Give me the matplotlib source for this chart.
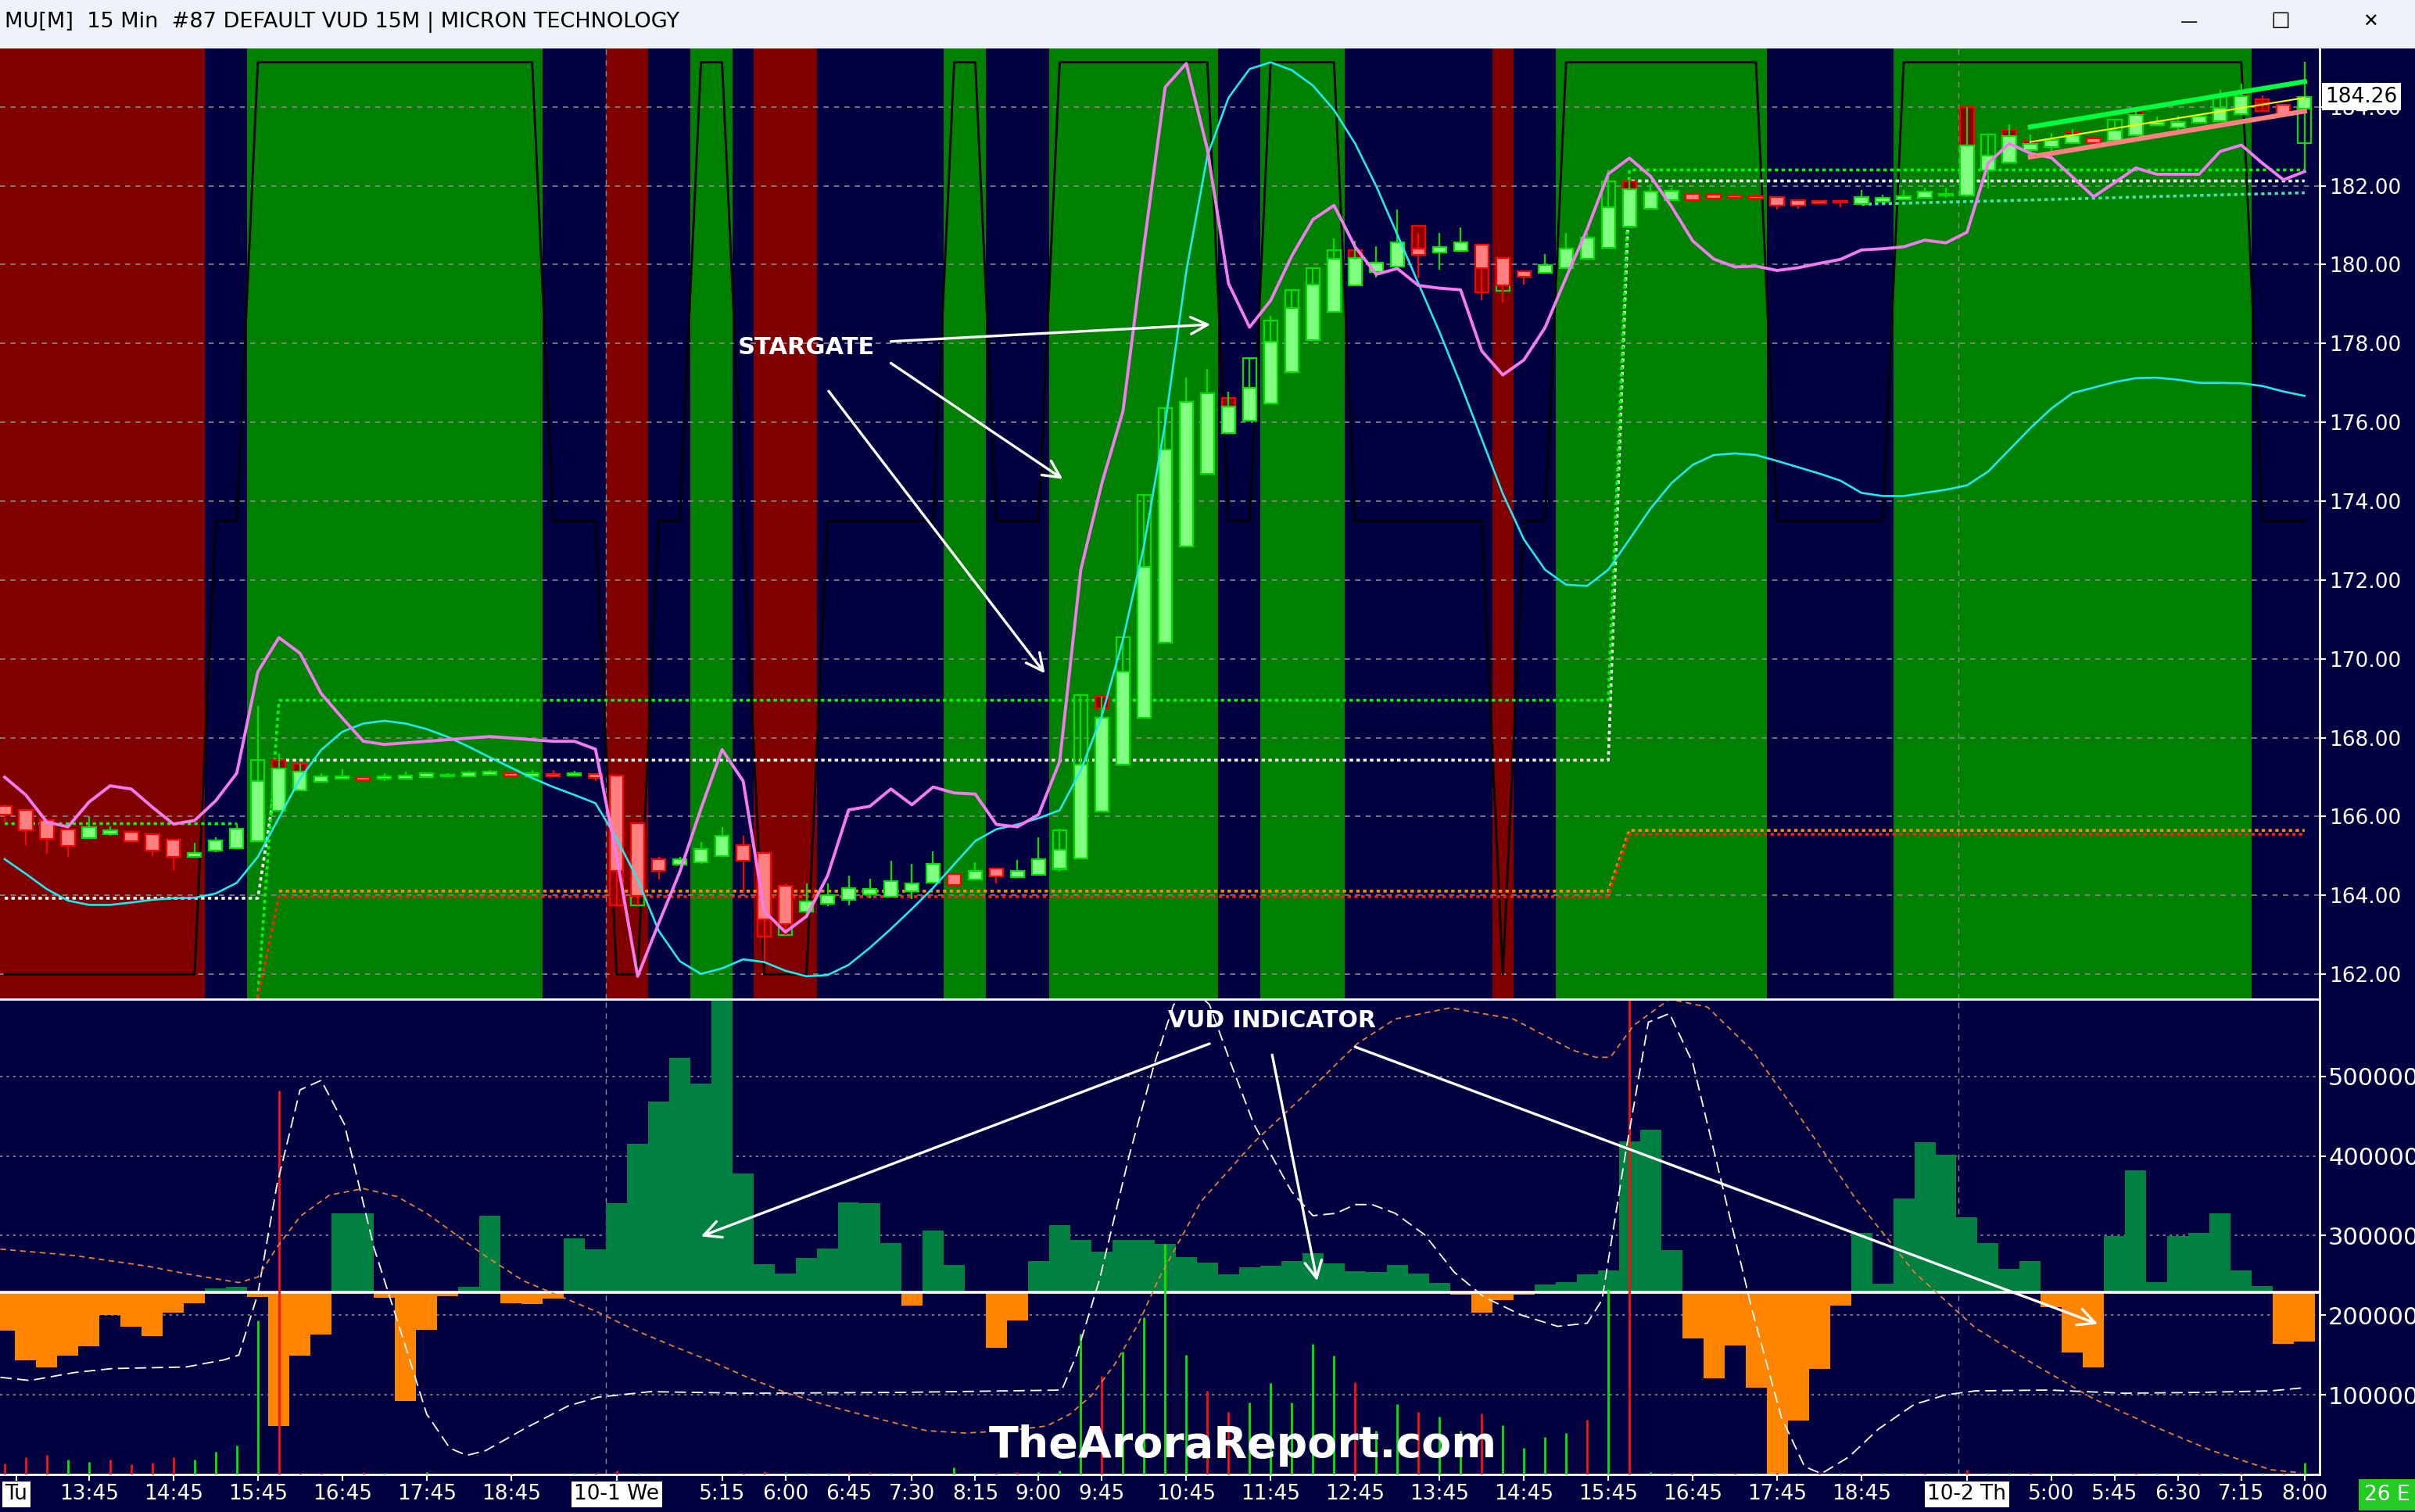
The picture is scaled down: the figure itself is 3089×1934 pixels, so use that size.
import numpy as np
import matplotlib.pyplot as plt
from matplotlib import font_manager as fm
from matplotlib.patches import Rectangle
from matplotlib.transforms import blended_transform_factory
from itertools import groupby


def have_font(name):
    try:
        fm.findfont(fm.FontProperties(family=name), fallback_to_default=False)
        return True
    except Exception:
        return False


NARROW = have_font('Liberation Sans Narrow')
NFONT = 'Liberation Sans Narrow' if NARROW else 'DejaVu Sans'

NAVY = '#000040'
BAND_COL = {'G': '#008000', 'R': '#800000'}

# ---- 15 min bars, index 0 = 9-30 12:45 ----
opens = [166.26, 166.16, 165.92, 165.68, 165.46, 165.56, 165.62, 165.56, 165.41, 164.97,
         165.13, 165.20, 165.37, 166.14, 166.67, 166.88, 166.97, 167.00, 166.96, 166.97,
         167.00, 167.02, 167.02, 167.06, 167.10, 167.02, 167.09, 167.04, 167.08, 167.04,
         165.84, 164.92, 164.78, 164.83, 165.00, 165.27, 165.07, 164.24, 163.60, 163.78,
         163.88, 164.03, 163.96, 164.10, 164.32, 164.55, 164.40, 164.68, 164.46, 164.53,
         164.69, 164.93, 166.13, 167.32, 168.51, 170.41, 172.85, 174.69, 175.72, 176.05,
         176.48, 177.27, 178.08, 178.80, 179.47, 179.80, 179.94, 180.40, 180.30, 180.34,
         180.50, 180.17, 179.83, 179.78, 179.90, 180.14, 180.43, 180.95, 181.42, 181.64,
         181.79, 181.78, 181.75, 181.74, 181.72, 181.64, 181.62, 181.61, 181.53, 181.60,
         181.66, 181.69, 181.75, 181.75, 182.38, 182.59, 182.91, 182.98, 183.08, 183.20,
         183.14, 183.28, 183.53, 183.48, 183.60, 183.63, 183.82, 184.10, 184.06, 183.95]
closes = [166.04, 165.66, 165.43, 165.25, 165.74, 165.66, 165.38, 165.13, 164.98, 165.08,
          165.39, 165.70, 166.90, 167.21, 167.13, 167.03, 167.02, 166.93, 167.02, 167.05,
          167.10, 167.06, 167.12, 167.14, 167.02, 167.10, 167.03, 167.10, 166.98, 164.62,
          163.99, 164.63, 164.92, 165.17, 165.52, 164.88, 163.40, 163.27, 163.85, 164.01,
          164.19, 164.16, 164.36, 164.30, 164.80, 164.26, 164.63, 164.48, 164.62, 164.92,
          165.15, 167.32, 168.51, 169.67, 172.34, 175.30, 176.51, 176.74, 176.39, 176.88,
          178.05, 178.89, 179.50, 180.14, 180.17, 180.05, 180.57, 180.25, 180.45, 180.57,
          179.90, 179.47, 179.70, 179.98, 180.40, 180.68, 181.46, 181.92, 181.85, 181.88,
          181.64, 181.68, 181.69, 181.68, 181.50, 181.50, 181.55, 181.57, 181.72, 181.70,
          181.74, 181.85, 181.80, 183.02, 182.76, 183.26, 183.07, 183.16, 183.28, 183.09,
          183.40, 183.80, 183.61, 183.62, 183.75, 183.97, 184.27, 184.05, 183.82, 184.26]
highs = [166.30, 166.18, 165.94, 165.70, 166.00, 165.75, 165.65, 165.58, 165.43, 165.33,
         165.48, 165.84, 168.80, 167.60, 167.33, 167.10, 167.20, 167.02, 167.10, 167.14,
         167.12, 167.10, 167.16, 167.18, 167.12, 167.18, 167.18, 167.16, 167.10, 167.06,
         165.86, 164.98, 164.98, 165.35, 165.74, 165.51, 165.09, 164.30, 164.30, 164.30,
         164.50, 164.42, 164.88, 164.80, 165.12, 164.57, 164.83, 164.70, 164.90, 165.48,
         165.70, 169.08, 169.05, 170.56, 174.15, 176.35, 177.13, 177.36, 176.77, 177.62,
         178.70, 179.35, 179.90, 180.66, 180.60, 180.47, 181.40, 180.80, 180.80, 180.94,
         180.52, 180.19, 179.85, 180.26, 180.80, 180.80, 182.40, 182.11, 182.04, 181.95,
         181.81, 181.80, 181.82, 181.80, 181.74, 181.66, 181.64, 181.63, 181.90, 181.78,
         181.90, 181.95, 181.95, 184.00, 183.30, 183.56, 183.30, 183.34, 183.44, 183.26,
         183.70, 183.99, 183.75, 183.77, 183.80, 184.43, 184.59, 184.29, 184.08, 185.14]
lows = [165.87, 165.28, 165.06, 164.97, 165.44, 165.52, 165.35, 165.00, 164.65, 164.95,
        165.10, 165.18, 165.35, 166.12, 166.65, 166.86, 166.95, 166.91, 166.90, 166.95,
        166.98, 167.00, 167.00, 167.04, 167.00, 167.00, 167.01, 167.02, 166.90, 163.74,
        163.74, 164.40, 164.76, 164.81, 164.98, 164.06, 162.34, 163.00, 163.50, 163.72,
        163.74, 163.93, 163.94, 163.90, 164.30, 164.24, 164.38, 164.30, 164.44, 164.51,
        164.60, 164.91, 166.11, 167.30, 168.49, 170.39, 172.83, 174.67, 175.70, 176.03,
        176.46, 177.25, 178.06, 178.78, 179.45, 179.68, 179.92, 179.68, 179.86, 180.32,
        179.10, 179.03, 179.50, 179.76, 179.88, 180.12, 180.41, 180.93, 181.40, 181.62,
        181.62, 181.66, 181.65, 181.62, 181.40, 181.42, 181.53, 181.45, 181.51, 181.58,
        181.64, 181.67, 181.70, 181.72, 181.94, 182.57, 182.71, 182.86, 183.06, 183.05,
        183.12, 183.26, 183.51, 183.40, 183.58, 183.61, 183.80, 183.87, 183.77, 182.36]

# second (outline) box drawn behind some bars: top, bottom, G = hollow green, R = dark red
sb_idx = [12, 13, 14, 29, 30, 36, 37, 50, 51, 52, 53, 54, 55, 58, 59, 60, 61, 62,
          63, 64, 67, 70, 71, 76, 77, 93, 94, 95, 96, 98, 100, 101, 105, 106, 107, 109]
sb_top = [167.43, 167.43, 167.33, 167.04, 163.99, 165.07, 163.27, 165.65, 169.08, 169.05,
          170.56, 174.15, 176.35, 176.62, 177.62, 178.58, 179.35, 179.90, 180.37, 180.37,
          180.97, 180.50, 179.47, 182.11, 182.11, 184.00, 183.30, 183.42, 183.14, 183.36,
          183.68, 183.90, 184.28, 184.39, 184.20, 183.95]
sb_bot = [165.37, 167.21, 167.13, 163.74, 163.74, 162.95, 163.00, 164.67, 164.93, 168.74,
          167.32, 168.51, 170.41, 176.39, 176.05, 176.48, 177.27, 178.08, 178.80, 180.17,
          180.40, 179.30, 179.33, 180.43, 181.92, 183.02, 182.38, 183.26, 182.91, 183.28,
          183.14, 183.80, 183.63, 184.27, 183.89, 183.08]
sb_kind = "GRRRGRGGGRGGGRGGGGGRRRGGRRGRRRGRGRRG"

# background state per bar
band = ("RRRRRRRRRR" "NN" "GGGGGGGGGGGGGG" "NNN" "RR" "NN" "GG" "N" "RRR" "NNNNNN" "GG" "NNN"
        "GGGGGGGG" "NN" "GGGG" "NNNNNNN" "R" "NN" "GGGGGGGGGG" "NNNNNN" "GGGGGGGGGGGGGGGGG" "NNN")
trend_level = {'G': 185.13, 'N': 173.5, 'R': 162.0}

pink = [167.00, 166.55, 165.86, 165.74, 166.37, 166.78, 166.70, 166.24, 165.81, 165.90,
        166.40, 167.10, 169.67, 170.54, 170.14, 169.12, 168.50, 167.91, 167.83, 167.87,
        167.91, 167.95, 167.99, 168.03, 167.99, 167.95, 167.91, 167.91, 167.71, 165.00,
        161.95, 163.30, 164.60, 166.20, 167.70, 166.90, 163.60, 163.07, 163.47, 164.50,
        166.17, 166.26, 166.70, 166.30, 166.75, 166.60, 166.57, 165.80, 165.74, 166.05,
        167.40, 172.26, 174.46, 176.28, 180.50, 184.50, 185.10, 182.92, 179.52, 178.41,
        179.09, 180.22, 181.14, 181.50, 180.45, 179.75, 179.90, 179.47, 179.40, 179.36,
        177.81, 177.20, 177.58, 178.40, 179.67, 180.90, 182.30, 182.70, 182.24, 181.47,
        180.60, 180.14, 179.94, 179.96, 179.85, 179.92, 180.03, 180.13, 180.37, 180.40,
        180.45, 180.62, 180.55, 180.82, 182.57, 183.07, 182.82, 182.71, 182.22, 181.72,
        182.08, 182.45, 182.29, 182.29, 182.29, 182.87, 183.03, 182.57, 182.15, 182.36]
cyan = [164.92, 164.55, 164.16, 163.87, 163.76, 163.76, 163.82, 163.89, 163.93, 163.94,
        164.05, 164.32, 164.98, 165.97, 166.96, 167.69, 168.15, 168.36, 168.43, 168.36,
        168.22, 168.02, 167.77, 167.50, 167.24, 166.98, 166.75, 166.55, 166.34, 165.45,
        164.40, 163.10, 162.33, 162.01, 162.15, 162.38, 162.31, 162.09, 161.95, 161.98,
        162.24, 162.67, 163.15, 163.66, 164.19, 164.79, 165.38, 165.68, 165.80, 165.96,
        166.16, 167.17, 168.56, 170.49, 172.88, 175.97, 179.83, 182.76, 184.23, 184.96,
        185.13, 184.93, 184.54, 183.92, 183.07, 181.99, 180.76, 179.52, 178.29, 176.97,
        175.58, 174.19, 173.03, 172.26, 171.88, 171.85, 172.26, 173.03, 173.81, 174.46,
        174.92, 175.17, 175.21, 175.17, 175.02, 174.86, 174.70, 174.52, 174.21, 174.13,
        174.13, 174.21, 174.29, 174.40, 174.75, 175.30, 175.85, 176.35, 176.74, 176.88,
        177.02, 177.12, 177.13, 177.08, 177.00, 177.00, 176.99, 176.92, 176.78, 176.67]

# dotted level lines: (first bar, last bar, level)
white_segs = [(0, 12, 163.93), (13, 76, 167.43), (77, 109, 182.12)]
green_segs = [(0, 11, 165.82), (13, 76, 168.95), (77, 109, 182.40)]
red_segs = [(12, 12, 161.40), (13, 76, 163.97), (77, 109, 165.55)]
orange_segs = [(13, 76, 164.11), (77, 109, 165.65)]
green_rise = [161.40, 168.95]          # bars 12 -> 13, coming up from the bottom
aqua_x = [88, 95.5, 103, 109]
aqua_y = [181.53, 181.63, 181.74, 181.82]
chan_x = [96, 109]
chan_top = [183.49, 184.64]
chan_mid = [183.11, 184.23]
chan_bot = [182.73, 183.89]

# ---- VUD panel ----
vud_base = 2.286
vud = [1.81, 1.43, 1.35, 1.49, 1.61, 2.00, 1.86, 1.74, 2.03, 2.15,
       2.34, 2.36, 2.23, 0.61, 1.49, 1.76, 3.28, 3.28, 2.22, 0.92,
       1.82, 2.24, 2.36, 3.25, 2.15, 2.14, 2.21, 2.97, 2.83, 3.41,
       4.15, 4.68, 5.23, 4.91, 6.20, 3.78, 2.64, 2.52, 2.72, 2.84,
       3.42, 3.41, 2.91, 2.12, 3.06, 2.63, 2.29, 1.59, 1.93, 2.68,
       3.13, 2.95, 2.80, 2.95, 2.95, 2.90, 2.73, 2.66, 2.51, 2.60,
       2.62, 2.68, 2.78, 2.65, 2.55, 2.54, 2.63, 2.52, 2.41, 2.26,
       2.03, 2.19, 2.26, 2.39, 2.42, 2.51, 2.56, 4.18, 4.33, 2.82,
       1.71, 1.21, 1.62, 1.09, 0.00, 0.68, 1.33, 2.12, 3.03, 2.40,
       3.47, 4.17, 4.02, 3.23, 2.91, 2.58, 2.68, 2.10, 1.53, 1.35,
       2.99, 3.82, 2.42, 2.99, 3.03, 3.28, 2.56, 2.37, 1.64, 1.67]
vol = [0.14, 0.22, 0.25, 0.19, 0.16, 0.19, 0.13, 0.15, 0.22, 0.19,
       0.28, 0.36, 1.93, 4.82, 0.02, 0.02, 0.00, 0.03, 0.02, 0.00,
       0.03, 0.00, 0.00, 0.00, 0.02, 0.00, 0.00, 0.02, 0.02, 0.05,
       0.02, 0.00, 0.00, 0.00, 0.00, 0.02, 0.04, 0.02, 0.02, 0.02,
       0.03, 0.03, 0.02, 0.02, 0.00, 0.09, 0.02, 0.02, 0.03, 0.03,
       0.05, 1.77, 1.24, 1.54, 1.97, 2.90, 1.50, 1.05, 0.79, 0.90,
       1.15, 0.90, 1.64, 1.49, 1.16, 0.55, 0.88, 0.79, 0.73, 0.55,
       0.77, 0.62, 0.33, 0.47, 0.52, 0.69, 2.33, 7.00, 0.03, 0.02,
       0.02, 0.02, 0.02, 0.02, 0.02, 0.02, 0.02, 0.02, 0.02, 0.02,
       0.02, 0.02, 0.02, 0.06, 0.02, 0.02, 0.02, 0.02, 0.02, 0.02,
       0.02, 0.02, 0.02, 0.02, 0.02, 0.02, 0.02, 0.02, 0.02, 0.15]
vol_dir = ("RRRGGRRRRG" "GGGRRRGRGG" "GGGGRGGGRR" "GGGGGRRGGG" "RRGRGGGRRG"
           "GGRGGGGRRG" "GGGGRGGRGG" "RGGGGRGRGR" "RGRGRGRGRG" "GRGRGGRGRG" "GRGGRGRGRG")

wdash_x = [-0.2, 1.2, 3.3, 5.1, 8.6, 10.4, 11.1, 12.0, 12.9, 14.0, 15.0, 16.1, 17.5, 18.9,
           20.0, 21.1, 21.9, 22.8, 24.6, 26.7, 28.1, 30.6, 35.2, 42.3, 50.1, 50.8, 51.9,
           53.3, 54.5, 55.4, 56.3, 57.1, 58.1, 59.2, 61.0, 62.0, 63.1, 64.0, 64.8, 65.9,
           67.3, 68.7, 70.1, 71.9, 73.6, 75.0, 75.7, 76.8, 77.9, 78.9, 80.0, 81.4, 82.8,
           84.2, 85.3, 86.1, 87.4, 88.8, 90.5, 92.0, 93.4, 96.9, 100.4, 103.9, 107.4, 109.0]
wdash_y = [1.22, 1.18, 1.28, 1.33, 1.35, 1.44, 1.50, 2.27, 3.63, 4.83, 4.95, 4.40, 2.85, 1.69,
           0.76, 0.33, 0.24, 0.30, 0.57, 0.86, 0.97, 1.04, 1.02, 1.03, 1.06, 1.50, 2.46,
           4.01, 5.17, 5.90, 6.10, 5.90, 5.17, 4.40, 3.55, 3.25, 3.28, 3.39, 3.39, 3.28,
           3.01, 2.54, 2.23, 2.00, 1.86, 1.90, 2.19, 4.01, 5.68, 5.79, 5.17, 3.63, 2.08,
           0.72, 0.10, 0.01, 0.22, 0.57, 0.88, 1.00, 1.05, 1.06, 1.02, 1.03, 1.05, 1.09]
odash_x = [-0.2, 3.3, 6.9, 8.6, 11.1, 12.0, 12.9, 14.0, 15.4, 17.0, 18.6, 20.0, 21.4, 22.8,
           24.6, 26.4, 28.1, 29.9, 31.7, 33.5, 35.2, 37.0, 38.8, 40.5, 42.3, 43.7, 45.5,
           47.6, 49.4, 50.5, 51.5, 52.6, 53.7, 54.7, 56.7, 59.2, 61.7, 64.1, 65.9, 68.5,
           71.5, 74.3, 75.4, 76.1, 77.2, 78.9, 80.7, 82.8, 84.9, 87.7, 90.5, 93.4, 96.2,
           99.0, 101.8, 104.6, 107.4, 108.8]
odash_y = [2.83, 2.75, 2.61, 2.52, 2.41, 2.48, 2.85, 3.24, 3.51, 3.59, 3.49, 3.28, 3.01, 2.74,
           2.43, 2.23, 2.04, 1.81, 1.61, 1.42, 1.22, 1.03, 0.88, 0.76, 0.64, 0.55, 0.52,
           0.55, 0.61, 0.76, 0.99, 1.38, 1.88, 2.46, 3.43, 4.17, 4.79, 5.41, 5.72, 5.86,
           5.72, 5.33, 5.24, 5.24, 5.64, 5.97, 5.87, 5.33, 4.56, 3.47, 2.54, 1.84, 1.38,
           0.95, 0.61, 0.30, 0.06, 0.02]

day_breaks = [28.5, 92.6]
tick_pos = [0.55, 4, 8, 12, 16, 20, 24, 29, 34, 37, 40, 43, 46, 49, 52, 56, 60, 64, 68, 72,
            76, 80, 84, 88, 93, 97, 100, 103, 106, 109]
tick_lab = ["Tu", "13:45", "14:45", "15:45", "16:45", "17:45", "18:45", "10-1 We", "5:15",
            "6:00", "6:45", "7:30", "8:15", "9:00", "9:45", "10:45", "11:45", "12:45", "13:45",
            "14:45", "15:45", "16:45", "17:45", "18:45", "10-2 Th", "5:00", "5:45", "6:30",
            "7:15", "8:00"]
day_lab = {"Tu", "10-1 We", "10-2 Th"}
price_ticks = [162, 164, 166, 168, 170, 172, 174, 176, 178, 180, 182, 184]
vud_ticks = [1, 2, 3, 4, 5]
last_price = 184.26

if NARROW:
    fs_x, fs_star, fs_vud, fs_mark = 26, 29, 28, 55
else:
    fs_x, fs_star, fs_vud, fs_mark = 19, 22, 21.5, 40

idx = np.arange(len(opens))
XLIM = (-0.22, 109.71)


def steps(segs):
    out = np.full(len(idx), np.nan)
    for a, b, v in segs:
        out[a:b + 1] = v
    return out


fig = plt.figure(figsize=(30.89, 19.34), dpi=100, facecolor=NAVY)

# title bar
fig.add_artist(Rectangle((0, 1 - 62 / 1934), 1, 62 / 1934, transform=fig.transFigure,
                         facecolor='#EEF2F9', edgecolor='none', zorder=0))
fig.text(0.002, 1 - 28 / 1934, "MU[M]  15 Min  #87 DEFAULT VUD 15M | MICRON TECHNOLOGY",
         fontsize=19.5, color='black', va='center', ha='left')
fig.text(2800 / 3089, 1 - 28 / 1934, "\u2014", fontsize=16, color='black', va='center', ha='center')
fig.text(2917 / 3089, 1 - 28 / 1934, "\u2610", fontsize=20, color='black', va='center', ha='center')
fig.text(3032 / 3089, 1 - 28 / 1934, "\u2715", fontsize=17, color='black', va='center', ha='center')

# ---------------- price panel ----------------
ax1 = fig.add_axes([0, 0.33919, 0.9605, 0.62875])
ax1.set_facecolor(NAVY)
ax1.set_xlim(*XLIM)
ax1.set_ylim(161.37, 185.48)

pos = 0
for state, grp in groupby(band):
    n = len(list(grp))
    if state in BAND_COL:
        ax1.axvspan(pos - 0.5, pos + n - 0.5, color=BAND_COL[state], lw=0, zorder=0)
    pos += n

for p in price_ticks:
    ax1.axhline(p, color='#8a8a8a', lw=1.2, ls=(0, (4, 4)), zorder=1)
for b in day_breaks:
    ax1.axvline(b, color='#8a8a8a', lw=1, ls=(0, (5, 5)), zorder=1)

ax1.plot(idx, [trend_level[s] for s in band], color='black', lw=2, zorder=2)

dot = (0, (1.2, 1.2))
ax1.plot(idx, steps(white_segs), color='white', lw=2.6, ls=dot, zorder=3)
ax1.plot(idx, steps(green_segs), color='#00FF00', lw=2.6, ls=dot, zorder=3)
ax1.plot(idx[12:14], green_rise, color='#00FF00', lw=2.6, ls=dot, zorder=3)
ax1.plot(idx, steps(orange_segs), color='#FF8C00', lw=2.6, ls=dot, zorder=3)
ax1.plot(idx, steps(red_segs), color='#FF2010', lw=2.6, ls=dot, zorder=3)
ax1.plot(aqua_x, aqua_y, color='#40E8B0', lw=2.6, ls=dot, zorder=3)

# outline boxes
for i, t, b, k in zip(sb_idx, sb_top, sb_bot, sb_kind):
    if k == 'G':
        ax1.bar(i, t - b, bottom=b, width=0.64, facecolor='none', edgecolor='#00E000', lw=1.6, zorder=4)
    else:
        ax1.bar(i, t - b, bottom=b, width=0.64, facecolor='#8B0000', edgecolor='#FF0000', lw=1.6, zorder=4)

o = np.array(opens)
c = np.array(closes)
up = c >= o
edge = np.where(up, '#00E000', '#FF0000')
fill = np.where(up, '#80FF80', '#FF8080')
ax1.vlines(idx, lows, highs, colors=edge, lw=1.6, zorder=5)
ax1.bar(idx, np.maximum(np.abs(c - o), 0.04), bottom=np.minimum(o, c), width=0.64,
        color=fill, edgecolor=edge, lw=1.6, zorder=6)

ax1.plot(idx, cyan, color='#22E8F0', lw=1.9, zorder=7)
ax1.plot(idx, pink, color='#F47CF0', lw=2.8, zorder=7)
ax1.plot(chan_x, chan_top, color='#00FF40', lw=4.5, zorder=8)
ax1.plot(chan_x, chan_bot, color='#FF8080', lw=4.5, zorder=8)
ax1.plot(chan_x, chan_mid, color='#FFFF00', lw=1.5, zorder=8)

ax1.yaxis.tick_right()
ax1.set_yticks(price_ticks)
ax1.set_yticklabels([f"{p:.2f}" for p in price_ticks])
ax1.tick_params(axis='y', colors='white', labelsize=19, length=6, width=1.5, pad=3)
ax1.set_xticks([])
for s in ['top', 'left']:
    ax1.spines[s].set_visible(False)
for s in ['right', 'bottom']:
    ax1.spines[s].set_color('white')
    ax1.spines[s].set_linewidth(2)
tr = blended_transform_factory(ax1.transAxes, ax1.transData)
ax1.text(1.0025, last_price, f"{last_price:.2f}", transform=tr, fontsize=19, color='black',
         va='center', ha='left', zorder=20, clip_on=False,
         bbox=dict(facecolor='white', edgecolor='none', pad=3))

arw = dict(arrowstyle='->,head_length=0.6,head_width=0.3', color='white', lw=2.4,
           mutation_scale=26, shrinkA=0, shrinkB=0)
ax1.text(38.0, 177.9, "STARGATE", color='white', fontsize=fs_star, fontweight='bold',
         family=[NFONT, 'DejaVu Sans'], ha='center', va='center', zorder=12)
ax1.annotate('', xy=(57.15, 178.48), xytext=(42.0, 178.05), arrowprops=arw, zorder=12)
ax1.annotate('', xy=(50.15, 174.56), xytext=(42.0, 177.5), arrowprops=arw, zorder=12)
ax1.annotate('', xy=(49.3, 169.63), xytext=(39.05, 176.79), arrowprops=arw, zorder=12)

# ---------------- VUD panel ----------------
ax2 = fig.add_axes([0, 0.02482, 0.9605, 0.31334])
ax2.set_facecolor(NAVY)
ax2.set_xlim(*XLIM)
ax2.set_ylim(0, 5.95)
for v in vud_ticks:
    ax2.axhline(v, color='#8a8a8a', lw=1.2, ls=(0, (2, 3)), zorder=1)
for b in day_breaks:
    ax2.axvline(b, color='#8a8a8a', lw=1, ls=(0, (5, 5)), zorder=1)

d = np.array(vud) - vud_base
ax2.bar(idx, d, bottom=vud_base, width=1.0, color=np.where(d >= 0, '#008040', '#FF8400'),
        lw=0, zorder=2)
ax2.axhline(vud_base, color='white', lw=2.6, zorder=3)
ax2.vlines(idx, 0, vol, colors=['#00EE00' if s == 'G' else '#FF1010' for s in vol_dir],
           lw=2, zorder=4)
ax2.plot(wdash_x, wdash_y, color='white', lw=1.3, ls=(0, (8, 4)), zorder=5)
ax2.plot(odash_x, odash_y, color='#E8803A', lw=1.3, ls=(0, (4, 3)), zorder=5)

ax2.text(60.07, 5.70, "VUD INDICATOR", color='white', fontsize=fs_vud, fontweight='bold',
         family=[NFONT, 'DejaVu Sans'], ha='center', va='center', zorder=12)
ax2.annotate('', xy=(33.0, 2.99), xytext=(57.1, 5.41), arrowprops=arw, zorder=12)
ax2.annotate('', xy=(62.2, 2.43), xytext=(60.07, 5.27), arrowprops=arw, zorder=12)
ax2.annotate('', xy=(99.2, 1.89), xytext=(64.0, 5.37), arrowprops=arw, zorder=12)
ax2.text(58.7, 0.36, "TheAroraReport.com", color='white', fontsize=fs_mark, fontweight='bold',
         family=[NFONT, 'DejaVu Sans'], ha='center', va='center', zorder=11)

ax2.yaxis.tick_right()
ax2.set_yticks(vud_ticks)
ax2.set_yticklabels([f"{v * 1000000:d}" for v in vud_ticks])
ax2.tick_params(axis='y', colors='white', labelsize=22, length=6, width=1.5, pad=2)
ax2.set_xticks(tick_pos)
ax2.set_xticklabels(tick_lab, family=[NFONT, 'DejaVu Sans'], fontsize=fs_x)
ax2.tick_params(axis='x', colors='white', length=6, width=1.5, pad=3)
for lbl in ax2.get_xticklabels():
    if lbl.get_text() in day_lab:
        lbl.set_color('black')
        lbl.set_bbox(dict(facecolor='white', edgecolor='none', pad=2.5))
for s in ['top', 'left']:
    ax2.spines[s].set_visible(False)
for s in ['right', 'bottom']:
    ax2.spines[s].set_color('white')
    ax2.spines[s].set_linewidth(2)

fig.text(3053 / 3089, 1 - 1912 / 1934, "26 E", color='white', fontsize=fs_x,
         family=[NFONT, 'DejaVu Sans'], ha='center', va='center',
         bbox=dict(facecolor='#22CC22', edgecolor='none', pad=5))

fig.savefig('out.png', dpi=100, facecolor=NAVY)
